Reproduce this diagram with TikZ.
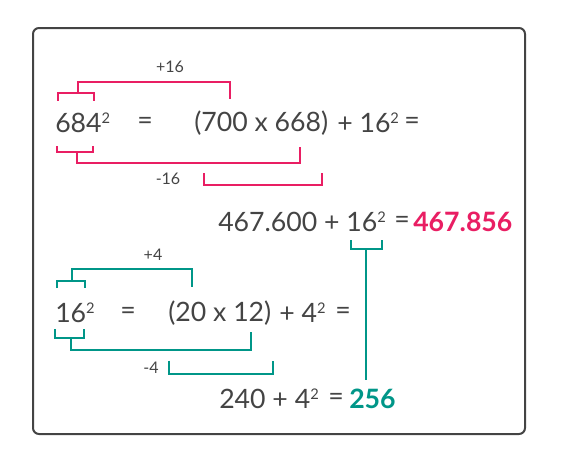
\documentclass[tikz,border=0pt]{standalone}
\usepackage{fontspec}
\setmainfont{Lato}
\definecolor{pinkred}{RGB}{233,30,99}
\definecolor{sea}{RGB}{0,150,136}
\definecolor{ink}{RGB}{68,68,68}
\newcommand{\sqr}{\raisebox{7pt}{\fontsize{11}{11}\selectfont 2}}
\begin{document}
\begin{tikzpicture}[x=0.75pt,y=-0.75pt,
	sum/.style={text=ink,font=\fontsize{20}{23}\selectfont,inner sep=0pt},
	tag/.style={text=ink,font=\fontsize{12}{14}\selectfont,inner sep=0pt},
	pinkbr/.style={draw=pinkred,line width=1.3pt},
	seabr/.style={draw=sea,line width=1.3pt}]
\useasboundingbox (0,0) rectangle (585,469);
\draw [ink,line width=1.5pt,rounded corners=4.5pt] (33,28) rectangle (525,434);

% first row: 684^2
\node [sum,anchor=west] (sq1) at (55,123) {684\sqr};
\node [sum] (eq1) at (145,123) {=};
\node [sum,anchor=west] (pr1) at (194,123) {(700 x 668)};
\node [sum,anchor=west] (rest1) at (337,123) {+ 16\sqr};
\node [sum] (eq1b) at (412,123) {=};
\node [tag] (plus1) at (170,67) {+16};
\node [tag] (minus1) at (168,179) {-16};

\draw [pinkbr] (57.7,100.7) -- (57.7,93.3) -- (94,93.3) -- (94,100.7);
\draw [pinkbr] (78.3,93.3) -- (78.3,82.3) -- (230,82.3) -- (230,99);
\draw [pinkbr] (56.7,146) -- (56.7,151.7) -- (92.7,151.7) -- (92.7,146);
\draw [pinkbr] (76.7,151.7) -- (76.7,163.3) -- (300,163.3) -- (300,146.7);
\draw [pinkbr] (204,173.3) -- (204,185) -- (321.7,185) -- (321.7,173.3);

% second row
\node [sum,anchor=west] (sum1) at (218,222) {467.600 + 16\sqr};
\node [sum] (eq1c) at (402,222) {=};
\node [sum,anchor=west,text=pinkred,font=\fontsize{20}{23}\selectfont\bfseries] (res1) at (413,222) {467.856};

\draw [seabr] (350.7,240) -- (350.7,249) -- (382,249) -- (382,240);
\draw [seabr] (366,249) -- (366,380);

% third row: 16^2
\node [sum,anchor=west] (sq2) at (55,313) {16\sqr};
\node [sum] (eq2) at (128,313) {=};
\node [sum,anchor=west] (pr2) at (168,313) {(20 x 12)};
\node [sum,anchor=west] (rest2) at (279,313) {+ 4\sqr};
\node [sum] (eq3) at (343,313) {=};
\node [tag] (plus2) at (153,255) {+4};
\node [tag] (minus2) at (151,368) {-4};

\draw [seabr] (56.7,288) -- (56.7,280.7) -- (85,280.7) -- (85,288);
\draw [seabr] (71.7,280.7) -- (71.7,269.3) -- (191.7,269.3) -- (191.7,287.3);
\draw [seabr] (55,329.3) -- (55,338.3) -- (84.3,338.3) -- (84.3,329.3);
\draw [seabr] (70.7,338.3) -- (70.7,350) -- (250.7,350) -- (250.7,331.7);
\draw [seabr] (169.3,360.7) -- (169.3,374.3) -- (273.3,374.3) -- (273.3,360.7);

% last row
\node [sum,anchor=west] (sum2) at (219,399) {240 + 4\sqr};
\node [sum] (eq4) at (336,399) {=};
\node [sum,anchor=west,text=sea,font=\fontsize{20}{23}\selectfont\bfseries] (res2) at (349,399) {256};
\end{tikzpicture}
\end{document}
